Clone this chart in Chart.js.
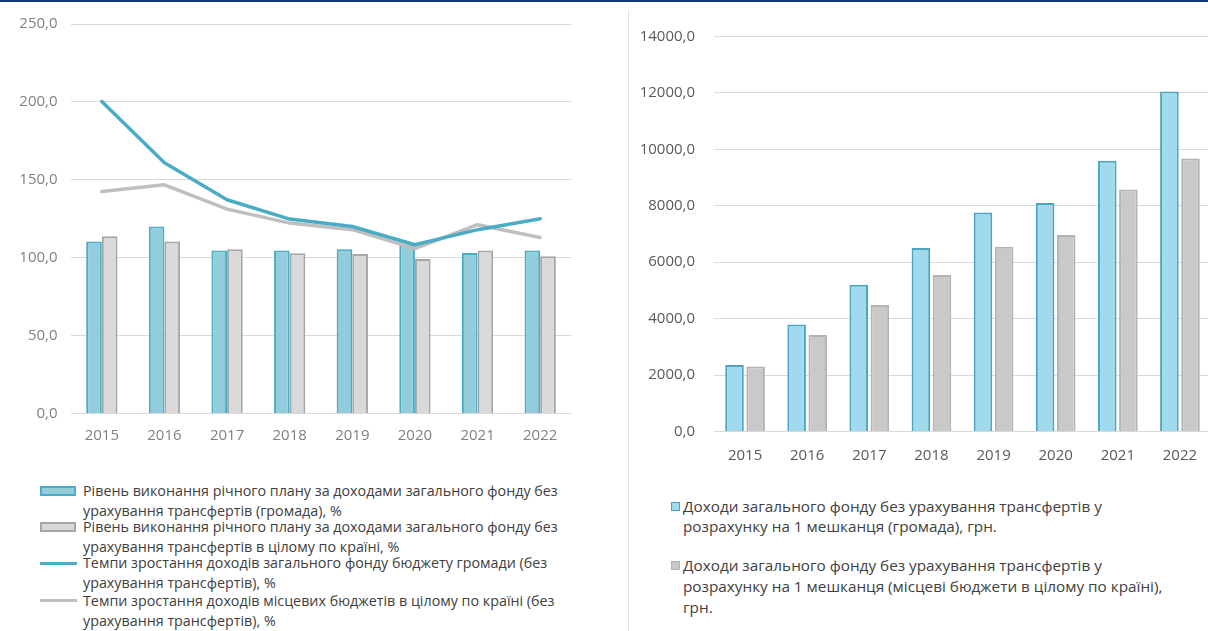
<!DOCTYPE html>
<html><head><meta charset="utf-8">
<script src="https://cdn.jsdelivr.net/npm/chart.js@4"></script>
<style>
html,body{margin:0;padding:0;background:#fff;width:1208px;height:631px;overflow:hidden;position:relative;font-family:'Open Sans',sans-serif;}
#topbar{position:absolute;left:0;top:0;width:1208px;height:2px;background:#0E3A73;}
#sep{position:absolute;left:628px;top:10px;width:1px;height:621px;background:#E3E3E3;}
#c1wrap{position:absolute;left:0;top:0;width:600px;height:460px;}
#c2wrap{position:absolute;left:630px;top:0;width:590px;height:480px;}
.leg{position:absolute;color:#404040;white-space:nowrap;}
.sw{position:absolute;box-sizing:border-box;}
</style></head>
<body>
<div id="topbar"></div>
<div id="sep"></div>
<div id="c1wrap"><canvas id="c1"></canvas></div>
<div id="c2wrap"><canvas id="c2"></canvas></div>
<div id="legends"></div>
<script>
const years = ['2015','2016','2017','2018','2019','2020','2021','2022'];
const planHromada = [110.4, 120.1, 104.7, 104.7, 105.5, 108.5, 103.0, 104.7];
const planCountry = [113.7, 110.4, 105.5, 102.8, 102.3, 99.1, 104.7, 100.9];
const growthHromada = [200.3, 161.0, 137.2, 124.8, 120.0, 108.3, 118.0, 125.0];
const growthCountry = [142.5, 146.8, 131.2, 122.2, 118.0, 105.8, 121.2, 113.0];
const perCapHromada = [2355, 3794, 5202, 6503, 7766, 8099, 9600, 12050];
const perCapCountry = [2305, 3418, 4482, 5546, 6550, 6965, 8580, 9680];

const leftLabels = [
  ['Рівень виконання річного плану за доходами загального фонду без', 'урахування трансфертів (громада), %'],
  ['Рівень виконання річного плану за доходами загального фонду без', 'урахування трансфертів в цілому по країні, %'],
  ['Темпи зростання доходів загального фонду бюджету громади (без', 'урахування трансфертів), %'],
  ['Темпи зростання доходів місцевих бюджетів в цілому по країні (без', 'урахування трансфертів), %']
];
const rightLabels = [
  ['Доходи загального фонду без урахування трансфертів у', 'розрахунку на 1 мешканця (громада), грн.'],
  ['Доходи загального фонду без урахування трансфертів у', 'розрахунку на 1 мешканця (місцеві бюджети в цілому по країні),', 'грн.']
];

const FONT = "'Open Sans', sans-serif";
const fmt = v => Number(v).toFixed(1).replace('.', ',');

new Chart(document.getElementById('c1'), {
  type: 'bar',
  data: {
    labels: years,
    datasets: [
      {type:'line', label: leftLabels[2].join(' '), data: growthHromada, borderColor:'#4BACC6', borderWidth:3.5, pointRadius:0, fill:false, tension:0, order:0, borderJoinStyle:'round', borderCapStyle:'round'},
      {type:'line', label: leftLabels[3].join(' '), data: growthCountry, borderColor:'#BFBFBF', borderWidth:3.5, pointRadius:0, fill:false, tension:0, order:0, borderJoinStyle:'round', borderCapStyle:'round'},
      {type:'bar', label: leftLabels[0].join(' '), data: planHromada, backgroundColor:'#92CDDC', borderColor:'#4BACC6', borderWidth:2, order:1, categoryPercentage:0.5, barPercentage:1.0},
      {type:'bar', label: leftLabels[1].join(' '), data: planCountry, backgroundColor:'#D9D9D9', borderColor:'#A6A6A6', borderWidth:2, order:1, categoryPercentage:0.5, barPercentage:1.0}
    ]
  },
  options: {
    responsive:true, maintainAspectRatio:false, animation:false,
    layout:{padding:{left:0, right:28.5, top:24, bottom:0}},
    plugins:{legend:{display:false}, tooltip:{enabled:false}},
    scales:{
      x:{grid:{display:false, drawTicks:false}, border:{display:false},
         ticks:{color:'#808080', font:{family:FONT, size:15}, padding:13},
         afterFit: s => { s.height = 46.5; }},
      y:{min:0, max:250, grid:{color:'#D9D9D9', lineWidth:1, drawTicks:false}, border:{display:false},
         ticks:{stepSize:50, color:'#808080', font:{family:FONT, size:15}, padding:13, callback: v => fmt(v)},
         afterFit: s => { s.width = 70.5; }}
    }
  }
});

new Chart(document.getElementById('c2'), {
  type: 'bar',
  data: {
    labels: years,
    datasets: [
      {label: rightLabels[0].join(' '), data: perCapHromada, backgroundColor:'#A1DAEC', borderColor:'#4BA5C1', borderWidth:2, categoryPercentage:0.68, barPercentage:0.88},
      {label: rightLabels[1].join(' '), data: perCapCountry, backgroundColor:'#C9C9C9', borderColor:'#B3B3B3', borderWidth:2, categoryPercentage:0.68, barPercentage:0.88}
    ]
  },
  options: {
    responsive:true, maintainAspectRatio:false, animation:false,
    layout:{padding:{left:0, right:9, top:36.5, bottom:0}},
    plugins:{legend:{display:false}, tooltip:{enabled:false}},
    scales:{
      x:{grid:{display:false, drawTicks:false}, border:{display:false},
         ticks:{color:'#595959', font:{family:FONT, size:15}, padding:15},
         afterFit: s => { s.height = 48.5; }},
      y:{min:0, max:14000, grid:{color:'#D9D9D9', lineWidth:1, drawTicks:false}, border:{display:false},
         ticks:{stepSize:2000, color:'#595959', font:{family:FONT, size:15}, padding:19, callback: v => fmt(v)},
         afterFit: s => { s.width = 84; }}
    }
  }
});

// HTML legends
const L = document.getElementById('legends');
function addText(lines, left, centerY, lh, size) {
  const d = document.createElement('div');
  d.className = 'leg';
  d.style.left = left + 'px';
  d.style.top = (centerY - lh/2) + 'px';
  d.style.lineHeight = lh + 'px';
  d.style.fontSize = size + 'px';
  d.innerHTML = lines.map(t => t.replace(/&/g,'&amp;').replace(/</g,'&lt;')).join('<br>');
  L.appendChild(d);
}
function addSwatch(left, top, w, h, bg, border, bw) {
  const s = document.createElement('div');
  s.className = 'sw';
  s.style.left = left + 'px'; s.style.top = top + 'px';
  s.style.width = w + 'px'; s.style.height = h + 'px';
  s.style.background = bg;
  if (border) s.style.border = bw + 'px solid ' + border;
  L.appendChild(s);
}
const leftCenters = [490.7, 526.7, 563.3, 600.7];
addSwatch(40, leftCenters[0]-5, 36, 10, '#92CDDC', '#4BACC6', 2);
addSwatch(40, leftCenters[1]-5, 36, 10, '#D9D9D9', '#A6A6A6', 2);
addSwatch(40, leftCenters[2]-1.75, 37, 3.5, '#4BACC6');
addSwatch(40, leftCenters[3]-1.75, 37, 3.5, '#BFBFBF');
leftLabels.forEach((lab, i) => addText(lab, 83, leftCenters[i], 20, 14.3));

const rightCenters = [506, 565.5];
addSwatch(671, rightCenters[0]-4.5, 9, 9, '#A1DAEC', '#4BA5C1', 1.5);
addSwatch(671, rightCenters[1]-4.5, 9, 9, '#C9C9C9', '#B3B3B3', 1.5);
rightLabels.forEach((lab, i) => addText(lab, 683, rightCenters[i], 20.7, 15.3));
</script>
</body></html>
